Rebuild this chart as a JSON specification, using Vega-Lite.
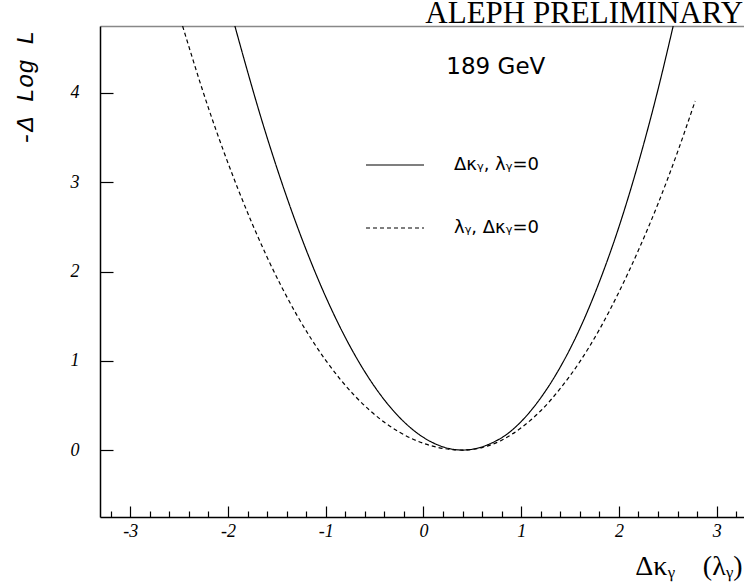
{
  "$schema": "https://vega.github.io/schema/vega-lite/v6.json",
  "width": 646,
  "height": 491,
  "autosize": "none",
  "padding": {"left": 100, "top": 26, "right": 0, "bottom": 70},
  "background": "white",
  "config": {
    "view": {"stroke": null},
    "axis": {"grid": false, "domainColor": "black", "tickColor": "black", "labelColor": "black", "titleColor": "black"}
  },
  "resolve": {"axis": {"x": "independent"}},
  "layer": [
    {
      "data": {"values": [
        {"series": "Δκᵧ, λᵧ=0", "x": -1.93, "y": 4.75},
        {"series": "Δκᵧ, λᵧ=0", "x": -1.80, "y": 4.24},
        {"series": "Δκᵧ, λᵧ=0", "x": -1.67, "y": 3.75},
        {"series": "Δκᵧ, λᵧ=0", "x": -1.50, "y": 3.16},
        {"series": "Δκᵧ, λᵧ=0", "x": -1.30, "y": 2.53},
        {"series": "Δκᵧ, λᵧ=0", "x": -1.10, "y": 1.97},
        {"series": "Δκᵧ, λᵧ=0", "x": -0.90, "y": 1.48},
        {"series": "Δκᵧ, λᵧ=0", "x": -0.70, "y": 1.06},
        {"series": "Δκᵧ, λᵧ=0", "x": -0.50, "y": 0.71},
        {"series": "Δκᵧ, λᵧ=0", "x": -0.30, "y": 0.43},
        {"series": "Δκᵧ, λᵧ=0", "x": -0.10, "y": 0.22},
        {"series": "Δκᵧ, λᵧ=0", "x": 0.10, "y": 0.08},
        {"series": "Δκᵧ, λᵧ=0", "x": 0.25, "y": 0.02},
        {"series": "Δκᵧ, λᵧ=0", "x": 0.40, "y": 0.0},
        {"series": "Δκᵧ, λᵧ=0", "x": 0.55, "y": 0.02},
        {"series": "Δκᵧ, λᵧ=0", "x": 0.70, "y": 0.08},
        {"series": "Δκᵧ, λᵧ=0", "x": 0.85, "y": 0.175},
        {"series": "Δκᵧ, λᵧ=0", "x": 1.00, "y": 0.32},
        {"series": "Δκᵧ, λᵧ=0", "x": 1.20, "y": 0.585},
        {"series": "Δκᵧ, λᵧ=0", "x": 1.40, "y": 0.93},
        {"series": "Δκᵧ, λᵧ=0", "x": 1.60, "y": 1.36},
        {"series": "Δκᵧ, λᵧ=0", "x": 1.80, "y": 1.885},
        {"series": "Δκᵧ, λᵧ=0", "x": 2.00, "y": 2.50},
        {"series": "Δκᵧ, λᵧ=0", "x": 2.20, "y": 3.22},
        {"series": "Δκᵧ, λᵧ=0", "x": 2.40, "y": 4.04},
        {"series": "Δκᵧ, λᵧ=0", "x": 2.555, "y": 4.75},
        {"series": "λᵧ, Δκᵧ=0", "x": -2.465, "y": 4.75},
        {"series": "λᵧ, Δκᵧ=0", "x": -2.20, "y": 3.83},
        {"series": "λᵧ, Δκᵧ=0", "x": -1.90, "y": 2.93},
        {"series": "λᵧ, Δκᵧ=0", "x": -1.60, "y": 2.16},
        {"series": "λᵧ, Δκᵧ=0", "x": -1.30, "y": 1.52},
        {"series": "λᵧ, Δκᵧ=0", "x": -1.00, "y": 1.005},
        {"series": "λᵧ, Δκᵧ=0", "x": -0.70, "y": 0.604},
        {"series": "λᵧ, Δκᵧ=0", "x": -0.40, "y": 0.311},
        {"series": "λᵧ, Δκᵧ=0", "x": -0.10, "y": 0.118},
        {"series": "λᵧ, Δκᵧ=0", "x": 0.15, "y": 0.029},
        {"series": "λᵧ, Δκᵧ=0", "x": 0.40, "y": 0.0},
        {"series": "λᵧ, Δκᵧ=0", "x": 0.60, "y": 0.028},
        {"series": "λᵧ, Δκᵧ=0", "x": 0.80, "y": 0.11},
        {"series": "λᵧ, Δκᵧ=0", "x": 1.00, "y": 0.25},
        {"series": "λᵧ, Δκᵧ=0", "x": 1.20, "y": 0.44},
        {"series": "λᵧ, Δκᵧ=0", "x": 1.40, "y": 0.69},
        {"series": "λᵧ, Δκᵧ=0", "x": 1.60, "y": 0.99},
        {"series": "λᵧ, Δκᵧ=0", "x": 1.80, "y": 1.35},
        {"series": "λᵧ, Δκᵧ=0", "x": 2.00, "y": 1.77},
        {"series": "λᵧ, Δκᵧ=0", "x": 2.20, "y": 2.24},
        {"series": "λᵧ, Δκᵧ=0", "x": 2.40, "y": 2.76},
        {"series": "λᵧ, Δκᵧ=0", "x": 2.60, "y": 3.34},
        {"series": "λᵧ, Δκᵧ=0", "x": 2.78, "y": 3.91}
      ]},
      "mark": {"type": "line", "color": "black", "strokeWidth": 1.2, "interpolate": "monotone", "clip": true},
      "encoding": {
        "x": {
          "field": "x", "type": "quantitative",
          "scale": {"domain": [-3.31, 3.30], "nice": false, "zero": false},
          "axis": {
            "orient": "bottom",
            "values": [-3, -2, -1, 0, 1, 2, 3],
            "labelExpr": "'' + datum.value",
            "tickSize": -11, "tickWidth": 1.2, "domainWidth": 1.5,
            "labelPadding": 16, "labelFlush": false,
            "labelFont": "Liberation Serif", "labelFontStyle": "italic", "labelFontSize": 18,
            "title": "Δκᵧ\u2003(λᵧ)",
            "titleFont": "Liberation Serif", "titleFontSize": 28, "titleFontWeight": "normal",
            "titleAnchor": "end", "titleAlign": "right", "titleBaseline": "alphabetic",
            "titleX": 642, "titleY": 57
          }
        },
        "y": {
          "field": "y", "type": "quantitative",
          "scale": {"domain": [-0.75, 4.75], "nice": false, "zero": false},
          "axis": {
            "orient": "left",
            "values": [0, 1, 2, 3, 4],
            "labelExpr": "'' + datum.value",
            "tickSize": -13, "tickWidth": 1.2, "domainWidth": 1.5,
            "labelPadding": 34,
            "labelFont": "Liberation Serif", "labelFontStyle": "italic", "labelFontSize": 18,
            "title": "-Δ Log L",
            "titleFont": "Liberation Mono", "titleFontStyle": "italic", "titleFontSize": 24, "titleFontWeight": "normal",
            "titleAngle": -90, "titleAlign": "right", "titleBaseline": "alphabetic",
            "titleX": -68, "titleY": 4
          }
        },
        "strokeDash": {
          "field": "series", "type": "nominal",
          "scale": {"domain": ["Δκᵧ, λᵧ=0", "λᵧ, Δκᵧ=0"], "range": [[1, 0], [4, 3]]},
          "legend": {
            "orient": "none", "legendX": 265, "legendY": 109,
            "title": null, "padding": 0,
            "symbolType": "stroke", "symbolSize": 3364, "symbolStrokeWidth": 1.2, "symbolStrokeColor": "black",
            "labelFont": "DejaVu Sans", "labelFontSize": 18, "labelColor": "black",
            "labelOffset": 29, "rowPadding": 24, "labelLimit": 300
          }
        }
      }
    },
    {
      "data": {"values": [{"x": 0.74, "y": 4.29, "label": "189 GeV"}]},
      "mark": {"type": "text", "font": "DejaVu Sans", "fontSize": 23, "align": "center", "baseline": "middle", "color": "black"},
      "encoding": {
        "x": {
          "field": "x", "type": "quantitative",
          "scale": {"domain": [-3.31, 3.30], "nice": false, "zero": false},
          "axis": {
            "orient": "bottom",
            "values": [-3.2, -2.8, -2.6, -2.4, -2.2, -1.8, -1.6, -1.4, -1.2, -0.8, -0.6, -0.4, -0.2, 0.2, 0.4, 0.6, 0.8, 1.2, 1.4, 1.6, 1.8, 2.2, 2.4, 2.6, 2.8, 3.2],
            "tickSize": -6, "tickWidth": 1.2,
            "labels": false, "domain": false, "title": null
          }
        },
        "y": {"field": "y", "type": "quantitative"},
        "text": {"field": "label"}
      }
    },
    {
      "data": {"values": [{"x": 3.27, "y": 4.75, "label": "ALEPH PRELIMINARY"}]},
      "mark": {"type": "text", "font": "Liberation Serif", "fontSize": 31, "align": "right", "baseline": "alphabetic", "dy": -3, "color": "black"},
      "encoding": {
        "x": {
          "field": "x", "type": "quantitative",
          "scale": {"domain": [-3.31, 3.30], "nice": false, "zero": false},
          "axis": {
            "orient": "top",
            "ticks": false, "labels": false, "title": null,
            "domainColor": "#888888", "domainWidth": 1.5
          }
        },
        "y": {"field": "y", "type": "quantitative"},
        "text": {"field": "label"}
      }
    }
  ]
}
